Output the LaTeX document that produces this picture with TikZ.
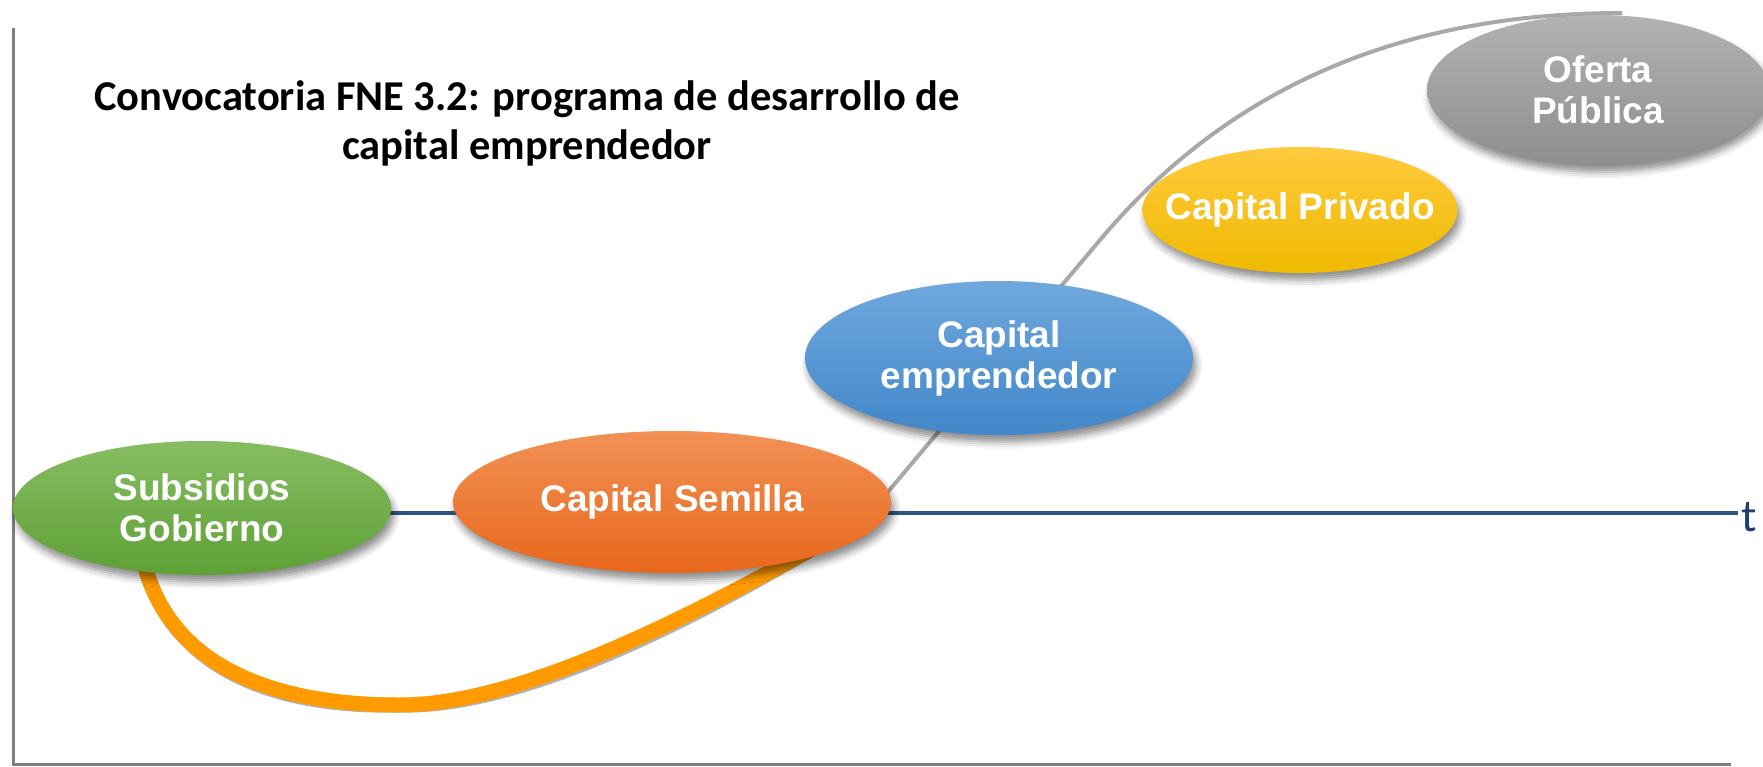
\documentclass[tikz,border=0pt]{standalone}
\usepackage{fontspec}
\setmainfont{Carlito}
\newfontfamily\arialfont{Liberation Sans}
\usetikzlibrary{shapes.geometric,shadows.blur}
\definecolor{axisgray}{HTML}{7F7F7F}
\definecolor{timeblue}{HTML}{2F5382}
\definecolor{tblue}{HTML}{1F3F6E}
\definecolor{scurve}{HTML}{A8A8A8}
\definecolor{jcurve}{HTML}{FF9A00}
\definecolor{gTop}{HTML}{86BD62}
\definecolor{gBot}{HTML}{5FA036}
\definecolor{oTop}{HTML}{F29156}
\definecolor{oBot}{HTML}{E8671A}
\definecolor{bTop}{HTML}{6FA8DD}
\definecolor{bBot}{HTML}{4287CA}
\definecolor{yTop}{HTML}{FFCA3D}
\definecolor{yBot}{HTML}{EFBA00}
\definecolor{pTop}{HTML}{B2B2B2}
\definecolor{pBot}{HTML}{8E8E8E}
\begin{document}
\begin{tikzpicture}[x=1pt,y=-1pt,
  stage/.style={ellipse, inner sep=0pt,
    blur shadow={shadow xshift=3pt, shadow yshift=-7pt, shadow blur radius=7pt, shadow opacity=45}},
  stagetext/.style={align=center, text=white, inner sep=0pt,
    font=\arialfont\bfseries\fontsize{37}{41}\selectfont},
  axisline/.style={draw=axisgray, line width=3pt},
  timeline/.style={draw=timeblue, line width=4pt},
  growth/.style={draw=scurve, line width=4pt},
  valley/.style={draw=jcurve, line width=15pt},
  valleyshadow/.style={draw=black, opacity=0.3, line width=15pt}]
\useasboundingbox (0,0) rectangle (1763,766);
% axes
\coordinate (ytop) at (13,28);
\coordinate (origin) at (13,764);
\coordinate (xend) at (1731,764);
\coordinate (tstart) at (13,513);
\coordinate (tend) at (1738,513);
\draw[axisline] (ytop) -- (origin) -- (xend);
\draw[timeline] (tstart) -- (tend);
\node[anchor=base west, text=tblue, font=\fontsize{46}{50}\selectfont, inner sep=0pt] (tlabel) at (1741,531) {t};
% S curve (growth)
\coordinate (s0) at (860,525);
\coordinate (s1) at (1100,240);
\coordinate (s2) at (1622,13);
\draw[growth] (s0) -- (s1) .. controls (1210,109) and (1372,13) .. (s2);
% J curve (valley of death)
\coordinate (v0) at (140,545);
\coordinate (v1) at (400,705);
\coordinate (v2) at (810,550);
\draw[valleyshadow, shift={(2,3)}] (v0) .. controls (160,665) and (270,705) .. (v1) .. controls (520,705) and (690,616) .. (v2);
\draw[valley] (v0) .. controls (160,665) and (270,705) .. (v1) .. controls (520,705) and (690,616) .. (v2);
% stages
\node[stage, minimum width=378pt, minimum height=134pt, top color=gTop, bottom color=gBot] (sub) at (202,508) {};
\node[stage, minimum width=438pt, minimum height=142pt, top color=oTop, bottom color=oBot] (sem) at (672,502) {};
\node[stage, minimum width=388pt, minimum height=154pt, top color=bTop, bottom color=bBot] (emp) at (999,358) {};
\node[stage, minimum width=315pt, minimum height=126pt, top color=yTop, bottom color=yBot] (pri) at (1300,210) {};
\node[stage, minimum width=342pt, minimum height=150pt, top color=pTop, bottom color=pBot] (ofe) at (1598,90) {};
\node[stagetext] (subt) at (sub.center) {Subsidios\\Gobierno};
\node[stagetext] (semt) at (sem.center) {Capital Semilla};
\node[stagetext] (empt) at (emp.center) {Capital\\emprendedor};
\node[stagetext] (prit) at (pri.center) {Capital Privado};
\node[stagetext] (ofet) at (ofe.center) {Oferta\\Pública};
% title
\node[align=center, font=\bfseries\fontsize{42.5}{49}\selectfont, inner sep=0pt] (title) at (527,123) {Convocatoria FNE 3.2: programa de desarrollo de\\capital emprendedor};
\end{tikzpicture}
\end{document}
